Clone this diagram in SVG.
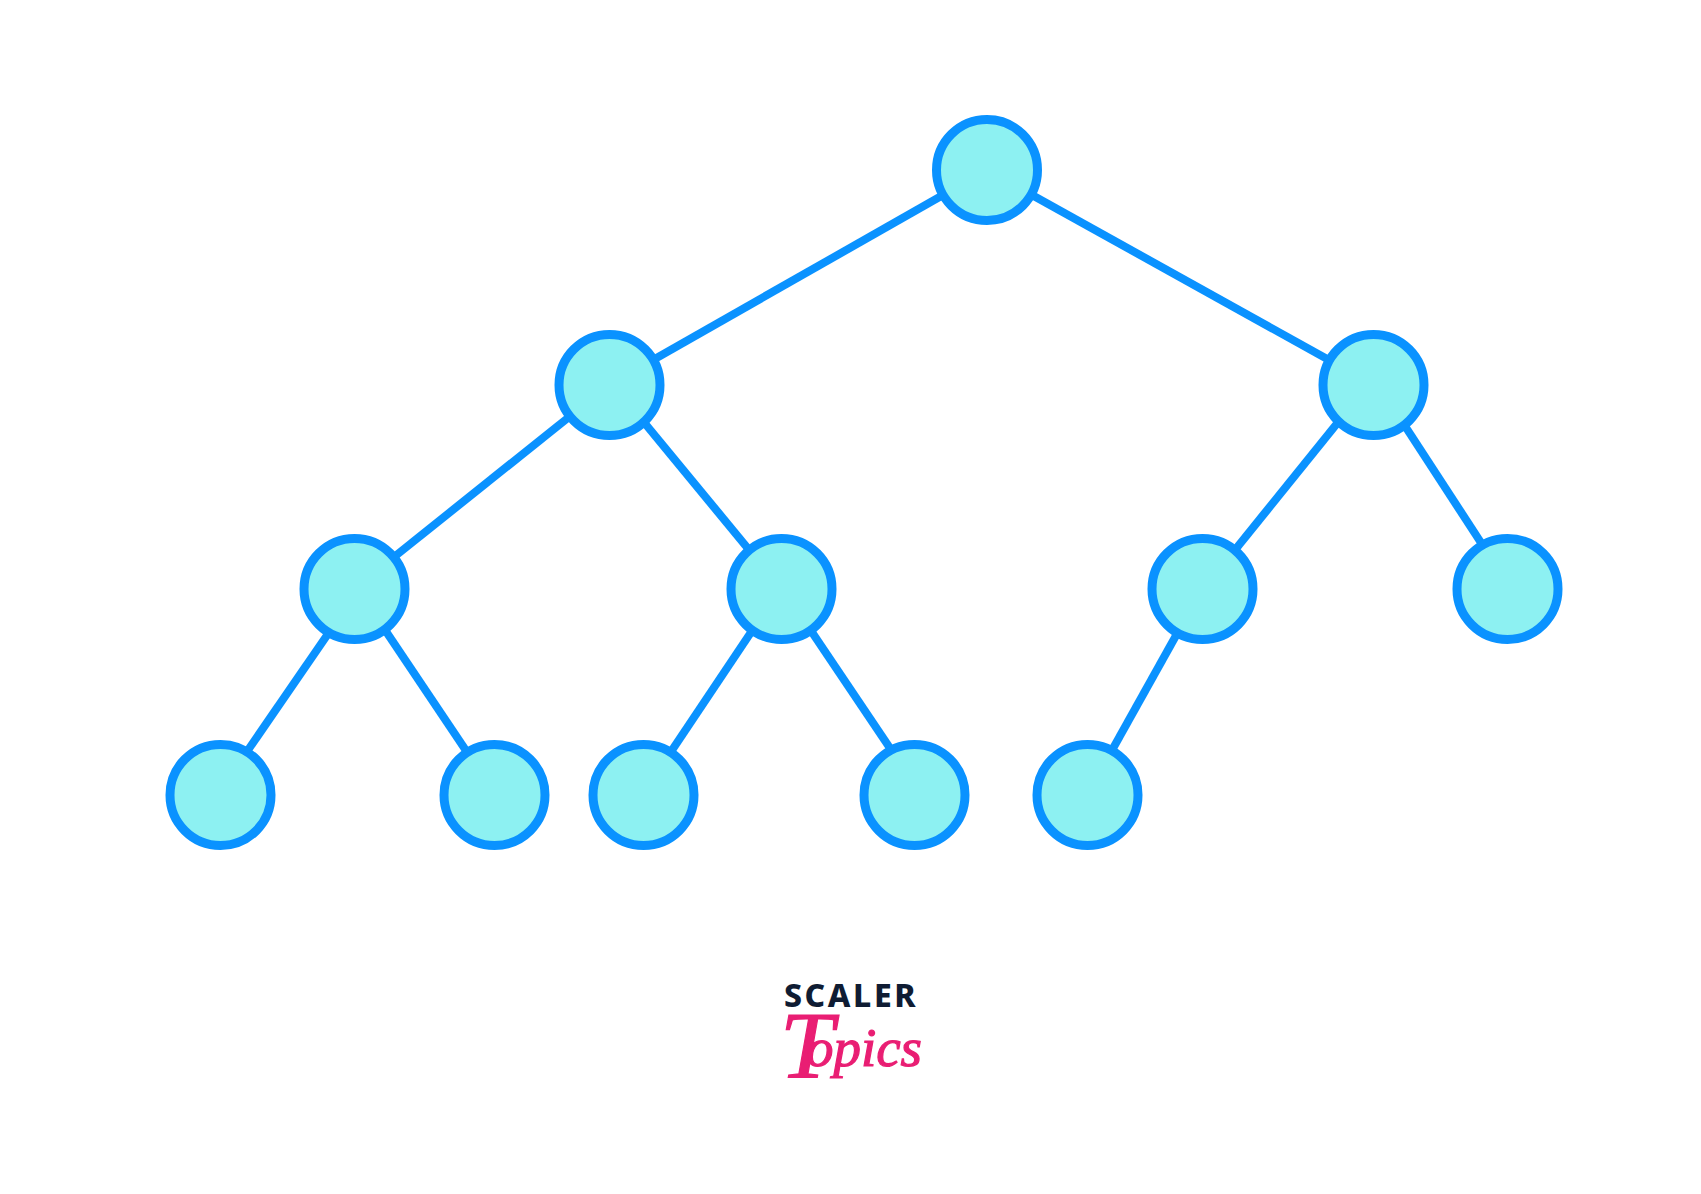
<svg xmlns="http://www.w3.org/2000/svg" width="1701" height="1194" viewBox="0 0 1701 1194">
<style>
.n{fill:#8df1f2;stroke:#0a92ff;stroke-width:9}
.e{stroke:#0a92ff;stroke-width:8;fill:none}
.s{font-family:"Noto Sans","Liberation Sans",sans-serif;font-weight:800;font-size:32px;fill:#0f1c33;letter-spacing:2.6px}
.t{font-family:"Liberation Serif",serif;font-style:italic;fill:#e91e73;stroke:#e91e73;stroke-width:1.2}
</style>
<rect width="1701" height="1194" fill="#fff"/>
<g id="connectors">
<line class="e" x1="987" y1="170" x2="609" y2="385"/>
<line class="e" x1="987" y1="170" x2="1374" y2="385"/>
<line class="e" x1="609" y1="385" x2="354" y2="589"/>
<line class="e" x1="635.3" y1="411.8" x2="757.6" y2="560.2"/>
<line class="e" x1="1346.5" y1="411.7" x2="1226.7" y2="560.2"/>
<line class="e" x1="1398.4" y1="415.9" x2="1488.3" y2="553.9"/>
<line class="e" x1="335.5" y1="623" x2="240.5" y2="761"/>
<line class="e" x1="378" y1="619.5" x2="473" y2="761"/>
<line class="e" x1="780" y1="589" x2="642" y2="795"/>
<line class="e" x1="803.6" y1="619.8" x2="897.3" y2="759"/>
<line class="e" x1="1202" y1="589" x2="1087" y2="795"/>
</g>
<g id="n1"><circle class="n" cx="987" cy="170" r="50.5"/></g>
<g id="n2"><circle class="n" cx="609.5" cy="385" r="50.5"/></g>
<g id="n3"><circle class="n" cx="1373.5" cy="385" r="50.5"/></g>
<g id="n4"><circle class="n" cx="354.5" cy="589" r="50.5"/></g>
<g id="n5"><circle class="n" cx="781.5" cy="589" r="50.5"/></g>
<g id="n6"><circle class="n" cx="1202.5" cy="589" r="50.5"/></g>
<g id="n7"><circle class="n" cx="1507.5" cy="589" r="50.5"/></g>
<g id="n8"><circle class="n" cx="220.5" cy="795" r="50.5"/></g>
<g id="n9"><circle class="n" cx="494.5" cy="795" r="50.5"/></g>
<g id="n10"><circle class="n" cx="643.5" cy="795" r="50.5"/></g>
<g id="n11"><circle class="n" cx="914.5" cy="795" r="50.5"/></g>
<g id="n12"><circle class="n" cx="1087.5" cy="795" r="50.5"/></g>
<g id="logo">
<text class="s" x="784" y="1007">SCALER</text>
<text class="t" x="780" y="1078" font-size="96">T<tspan x="806" y="1066" font-size="54" textLength="116" lengthAdjust="spacingAndGlyphs">opics</tspan></text>
</g>
</svg>
